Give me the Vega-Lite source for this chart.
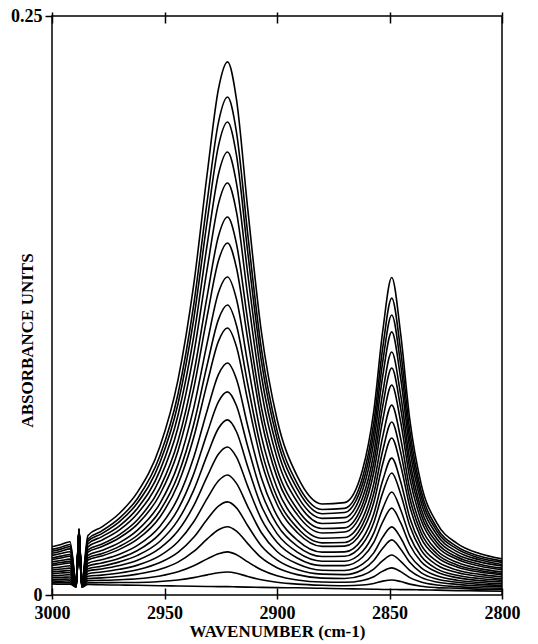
{
"$schema": "https://vega.github.io/schema/vega-lite/v6.json",
"width": 450, "height": 579,
"autosize": "none",
"padding": {"left": 52, "top": 16, "right": 36, "bottom": 49},
"background": "white",
"config": {"view": {"stroke": "black", "strokeWidth": 1.5}, "font": "Liberation Serif"},
"datasets": {"spec": [
{"s":1,"w":3000,"a":0.0208},{"s":1,"w":2996,"a":0.0218},{"s":1,"w":2992,"a":0.0230},{"s":1,"w":2989.2,"a":0.0057},{"s":1,"w":2988,"a":0.0287},{"s":1,"w":2986.8,"a":0.0057},{"s":1,"w":2984,"a":0.0257},{"s":1,"w":2978,"a":0.0293},{"s":1,"w":2970,"a":0.0353},{"s":1,"w":2962,"a":0.0444},{"s":1,"w":2952,"a":0.0642},{"s":1,"w":2944,"a":0.0929},{"s":1,"w":2937,"a":0.1341},{"s":1,"w":2931,"a":0.1821},{"s":1,"w":2926,"a":0.2186},{"s":1,"w":2922,"a":0.2302},{"s":1,"w":2918,"a":0.2139},{"s":1,"w":2913,"a":0.1667},{"s":1,"w":2907,"a":0.1141},{"s":1,"w":2900,"a":0.0760},{"s":1,"w":2891,"a":0.0513},{"s":1,"w":2880,"a":0.0393},{"s":1,"w":2870,"a":0.0399},{"s":1,"w":2862,"a":0.0540},{"s":1,"w":2857,"a":0.0793},{"s":1,"w":2853,"a":0.1140},{"s":1,"w":2849,"a":0.1371},{"s":1,"w":2845,"a":0.1124},{"s":1,"w":2841,"a":0.0759},{"s":1,"w":2836,"a":0.0482},{"s":1,"w":2829,"a":0.0311},{"s":1,"w":2820,"a":0.0223},{"s":1,"w":2810,"a":0.0179},{"s":1,"w":2800,"a":0.0156},
{"s":2,"w":3000,"a":0.0197},{"s":2,"w":2996,"a":0.0206},{"s":2,"w":2992,"a":0.0218},{"s":2,"w":2989.2,"a":0.0055},{"s":2,"w":2988,"a":0.0285},{"s":2,"w":2986.8,"a":0.0055},{"s":2,"w":2984,"a":0.0242},{"s":2,"w":2978,"a":0.0276},{"s":2,"w":2970,"a":0.0332},{"s":2,"w":2962,"a":0.0417},{"s":2,"w":2952,"a":0.0602},{"s":2,"w":2944,"a":0.0868},{"s":2,"w":2937,"a":0.1254},{"s":2,"w":2931,"a":0.1702},{"s":2,"w":2926,"a":0.2042},{"s":2,"w":2922,"a":0.2150},{"s":2,"w":2918,"a":0.1998},{"s":2,"w":2913,"a":0.1558},{"s":2,"w":2907,"a":0.1067},{"s":2,"w":2900,"a":0.0711},{"s":2,"w":2891,"a":0.0481},{"s":2,"w":2880,"a":0.0369},{"s":2,"w":2870,"a":0.0374},{"s":2,"w":2862,"a":0.0506},{"s":2,"w":2857,"a":0.0743},{"s":2,"w":2853,"a":0.1068},{"s":2,"w":2849,"a":0.1282},{"s":2,"w":2845,"a":0.1052},{"s":2,"w":2841,"a":0.0711},{"s":2,"w":2836,"a":0.0452},{"s":2,"w":2829,"a":0.0291},{"s":2,"w":2820,"a":0.0209},{"s":2,"w":2810,"a":0.0168},{"s":2,"w":2800,"a":0.0147},
{"s":3,"w":3000,"a":0.0189},{"s":3,"w":2996,"a":0.0198},{"s":3,"w":2992,"a":0.0209},{"s":3,"w":2989.2,"a":0.0054},{"s":3,"w":2988,"a":0.0284},{"s":3,"w":2986.8,"a":0.0054},{"s":3,"w":2984,"a":0.0232},{"s":3,"w":2978,"a":0.0264},{"s":3,"w":2970,"a":0.0317},{"s":3,"w":2962,"a":0.0398},{"s":3,"w":2952,"a":0.0573},{"s":3,"w":2944,"a":0.0826},{"s":3,"w":2937,"a":0.1192},{"s":3,"w":2931,"a":0.1617},{"s":3,"w":2926,"a":0.1940},{"s":3,"w":2922,"a":0.2042},{"s":3,"w":2918,"a":0.1898},{"s":3,"w":2913,"a":0.1480},{"s":3,"w":2907,"a":0.1014},{"s":3,"w":2900,"a":0.0676},{"s":3,"w":2891,"a":0.0458},{"s":3,"w":2880,"a":0.0351},{"s":3,"w":2870,"a":0.0356},{"s":3,"w":2862,"a":0.0479},{"s":3,"w":2857,"a":0.0702},{"s":3,"w":2853,"a":0.1008},{"s":3,"w":2849,"a":0.1209},{"s":3,"w":2845,"a":0.0992},{"s":3,"w":2841,"a":0.0671},{"s":3,"w":2836,"a":0.0428},{"s":3,"w":2829,"a":0.0277},{"s":3,"w":2820,"a":0.0199},{"s":3,"w":2810,"a":0.0160},{"s":3,"w":2800,"a":0.0141},
{"s":4,"w":3000,"a":0.0180},{"s":4,"w":2996,"a":0.0189},{"s":4,"w":2992,"a":0.0199},{"s":4,"w":2989.2,"a":0.0053},{"s":4,"w":2988,"a":0.0283},{"s":4,"w":2986.8,"a":0.0053},{"s":4,"w":2984,"a":0.0221},{"s":4,"w":2978,"a":0.0251},{"s":4,"w":2970,"a":0.0299},{"s":4,"w":2962,"a":0.0375},{"s":4,"w":2952,"a":0.0538},{"s":4,"w":2944,"a":0.0776},{"s":4,"w":2937,"a":0.1117},{"s":4,"w":2931,"a":0.1515},{"s":4,"w":2926,"a":0.1818},{"s":4,"w":2922,"a":0.1913},{"s":4,"w":2918,"a":0.1777},{"s":4,"w":2913,"a":0.1387},{"s":4,"w":2907,"a":0.0951},{"s":4,"w":2900,"a":0.0635},{"s":4,"w":2891,"a":0.0429},{"s":4,"w":2880,"a":0.0331},{"s":4,"w":2870,"a":0.0334},{"s":4,"w":2862,"a":0.0451},{"s":4,"w":2857,"a":0.0659},{"s":4,"w":2853,"a":0.0946},{"s":4,"w":2849,"a":0.1136},{"s":4,"w":2845,"a":0.0933},{"s":4,"w":2841,"a":0.0631},{"s":4,"w":2836,"a":0.0403},{"s":4,"w":2829,"a":0.0261},{"s":4,"w":2820,"a":0.0187},{"s":4,"w":2810,"a":0.0152},{"s":4,"w":2800,"a":0.0132},
{"s":5,"w":3000,"a":0.0171},{"s":5,"w":2996,"a":0.0179},{"s":5,"w":2992,"a":0.0187},{"s":5,"w":2989.2,"a":0.0052},{"s":5,"w":2988,"a":0.0282},{"s":5,"w":2986.8,"a":0.0052},{"s":5,"w":2984,"a":0.0208},{"s":5,"w":2978,"a":0.0236},{"s":5,"w":2970,"a":0.0281},{"s":5,"w":2962,"a":0.0352},{"s":5,"w":2952,"a":0.0503},{"s":5,"w":2944,"a":0.0723},{"s":5,"w":2937,"a":0.1041},{"s":5,"w":2931,"a":0.1410},{"s":5,"w":2926,"a":0.1690},{"s":5,"w":2922,"a":0.1779},{"s":5,"w":2918,"a":0.1653},{"s":5,"w":2913,"a":0.1290},{"s":5,"w":2907,"a":0.0886},{"s":5,"w":2900,"a":0.0592},{"s":5,"w":2891,"a":0.0402},{"s":5,"w":2880,"a":0.0309},{"s":5,"w":2870,"a":0.0313},{"s":5,"w":2862,"a":0.0419},{"s":5,"w":2857,"a":0.0611},{"s":5,"w":2853,"a":0.0874},{"s":5,"w":2849,"a":0.1049},{"s":5,"w":2845,"a":0.0861},{"s":5,"w":2841,"a":0.0584},{"s":5,"w":2836,"a":0.0374},{"s":5,"w":2829,"a":0.0243},{"s":5,"w":2820,"a":0.0175},{"s":5,"w":2810,"a":0.0143},{"s":5,"w":2800,"a":0.0125},
{"s":6,"w":3000,"a":0.0160},{"s":6,"w":2996,"a":0.0168},{"s":6,"w":2992,"a":0.0175},{"s":6,"w":2989.2,"a":0.0050},{"s":6,"w":2988,"a":0.0280},{"s":6,"w":2986.8,"a":0.0050},{"s":6,"w":2984,"a":0.0195},{"s":6,"w":2978,"a":0.0219},{"s":6,"w":2970,"a":0.0261},{"s":6,"w":2962,"a":0.0325},{"s":6,"w":2952,"a":0.0464},{"s":6,"w":2944,"a":0.0665},{"s":6,"w":2937,"a":0.0956},{"s":6,"w":2931,"a":0.1293},{"s":6,"w":2926,"a":0.1550},{"s":6,"w":2922,"a":0.1632},{"s":6,"w":2918,"a":0.1516},{"s":6,"w":2913,"a":0.1184},{"s":6,"w":2907,"a":0.0813},{"s":6,"w":2900,"a":0.0545},{"s":6,"w":2891,"a":0.0370},{"s":6,"w":2880,"a":0.0287},{"s":6,"w":2870,"a":0.0290},{"s":6,"w":2862,"a":0.0390},{"s":6,"w":2857,"a":0.0570},{"s":6,"w":2853,"a":0.0817},{"s":6,"w":2849,"a":0.0980},{"s":6,"w":2845,"a":0.0805},{"s":6,"w":2841,"a":0.0546},{"s":6,"w":2836,"a":0.0350},{"s":6,"w":2829,"a":0.0227},{"s":6,"w":2820,"a":0.0164},{"s":6,"w":2810,"a":0.0133},{"s":6,"w":2800,"a":0.0116},
{"s":7,"w":3000,"a":0.0153},{"s":7,"w":2996,"a":0.0160},{"s":7,"w":2992,"a":0.0167},{"s":7,"w":2989.2,"a":0.0049},{"s":7,"w":2988,"a":0.0279},{"s":7,"w":2986.8,"a":0.0049},{"s":7,"w":2984,"a":0.0185},{"s":7,"w":2978,"a":0.0208},{"s":7,"w":2970,"a":0.0247},{"s":7,"w":2962,"a":0.0306},{"s":7,"w":2952,"a":0.0435},{"s":7,"w":2944,"a":0.0622},{"s":7,"w":2937,"a":0.0892},{"s":7,"w":2931,"a":0.1205},{"s":7,"w":2926,"a":0.1444},{"s":7,"w":2922,"a":0.1520},{"s":7,"w":2918,"a":0.1412},{"s":7,"w":2913,"a":0.1104},{"s":7,"w":2907,"a":0.0760},{"s":7,"w":2900,"a":0.0509},{"s":7,"w":2891,"a":0.0347},{"s":7,"w":2880,"a":0.0268},{"s":7,"w":2870,"a":0.0272},{"s":7,"w":2862,"a":0.0364},{"s":7,"w":2857,"a":0.0529},{"s":7,"w":2853,"a":0.0756},{"s":7,"w":2849,"a":0.0907},{"s":7,"w":2845,"a":0.0745},{"s":7,"w":2841,"a":0.0506},{"s":7,"w":2836,"a":0.0325},{"s":7,"w":2829,"a":0.0212},{"s":7,"w":2820,"a":0.0154},{"s":7,"w":2810,"a":0.0125},{"s":7,"w":2800,"a":0.0109},
{"s":8,"w":3000,"a":0.0143},{"s":8,"w":2996,"a":0.0149},{"s":8,"w":2992,"a":0.0155},{"s":8,"w":2989.2,"a":0.0048},{"s":8,"w":2988,"a":0.0278},{"s":8,"w":2986.8,"a":0.0048},{"s":8,"w":2984,"a":0.0171},{"s":8,"w":2978,"a":0.0192},{"s":8,"w":2970,"a":0.0226},{"s":8,"w":2962,"a":0.0280},{"s":8,"w":2952,"a":0.0396},{"s":8,"w":2944,"a":0.0564},{"s":8,"w":2937,"a":0.0808},{"s":8,"w":2931,"a":0.1090},{"s":8,"w":2926,"a":0.1306},{"s":8,"w":2922,"a":0.1373},{"s":8,"w":2918,"a":0.1277},{"s":8,"w":2913,"a":0.0999},{"s":8,"w":2907,"a":0.0688},{"s":8,"w":2900,"a":0.0463},{"s":8,"w":2891,"a":0.0316},{"s":8,"w":2880,"a":0.0245},{"s":8,"w":2870,"a":0.0248},{"s":8,"w":2862,"a":0.0330},{"s":8,"w":2857,"a":0.0480},{"s":8,"w":2853,"a":0.0685},{"s":8,"w":2849,"a":0.0820},{"s":8,"w":2845,"a":0.0674},{"s":8,"w":2841,"a":0.0458},{"s":8,"w":2836,"a":0.0295},{"s":8,"w":2829,"a":0.0193},{"s":8,"w":2820,"a":0.0141},{"s":8,"w":2810,"a":0.0114},{"s":8,"w":2800,"a":0.0100},
{"s":9,"w":3000,"a":0.0134},{"s":9,"w":2996,"a":0.0140},{"s":9,"w":2992,"a":0.0145},{"s":9,"w":2989.2,"a":0.0047},{"s":9,"w":2988,"a":0.0277},{"s":9,"w":2986.8,"a":0.0047},{"s":9,"w":2984,"a":0.0160},{"s":9,"w":2978,"a":0.0178},{"s":9,"w":2970,"a":0.0210},{"s":9,"w":2962,"a":0.0258},{"s":9,"w":2952,"a":0.0364},{"s":9,"w":2944,"a":0.0517},{"s":9,"w":2937,"a":0.0737},{"s":9,"w":2931,"a":0.0995},{"s":9,"w":2926,"a":0.1190},{"s":9,"w":2922,"a":0.1252},{"s":9,"w":2918,"a":0.1164},{"s":9,"w":2913,"a":0.0910},{"s":9,"w":2907,"a":0.0629},{"s":9,"w":2900,"a":0.0423},{"s":9,"w":2891,"a":0.0290},{"s":9,"w":2880,"a":0.0225},{"s":9,"w":2870,"a":0.0227},{"s":9,"w":2862,"a":0.0303},{"s":9,"w":2857,"a":0.0438},{"s":9,"w":2853,"a":0.0624},{"s":9,"w":2849,"a":0.0747},{"s":9,"w":2845,"a":0.0615},{"s":9,"w":2841,"a":0.0419},{"s":9,"w":2836,"a":0.0270},{"s":9,"w":2829,"a":0.0178},{"s":9,"w":2820,"a":0.0130},{"s":9,"w":2810,"a":0.0106},{"s":9,"w":2800,"a":0.0093},
{"s":10,"w":3000,"a":0.0128},{"s":10,"w":2996,"a":0.0133},{"s":10,"w":2992,"a":0.0138},{"s":10,"w":2989.2,"a":0.0046},{"s":10,"w":2988,"a":0.0276},{"s":10,"w":2986.8,"a":0.0046},{"s":10,"w":2984,"a":0.0151},{"s":10,"w":2978,"a":0.0168},{"s":10,"w":2970,"a":0.0197},{"s":10,"w":2962,"a":0.0241},{"s":10,"w":2952,"a":0.0337},{"s":10,"w":2944,"a":0.0478},{"s":10,"w":2937,"a":0.0681},{"s":10,"w":2931,"a":0.0916},{"s":10,"w":2926,"a":0.1096},{"s":10,"w":2922,"a":0.1153},{"s":10,"w":2918,"a":0.1072},{"s":10,"w":2913,"a":0.0839},{"s":10,"w":2907,"a":0.0580},{"s":10,"w":2900,"a":0.0392},{"s":10,"w":2891,"a":0.0270},{"s":10,"w":2880,"a":0.0210},{"s":10,"w":2870,"a":0.0211},{"s":10,"w":2862,"a":0.0278},{"s":10,"w":2857,"a":0.0399},{"s":10,"w":2853,"a":0.0567},{"s":10,"w":2849,"a":0.0678},{"s":10,"w":2845,"a":0.0558},{"s":10,"w":2841,"a":0.0382},{"s":10,"w":2836,"a":0.0247},{"s":10,"w":2829,"a":0.0165},{"s":10,"w":2820,"a":0.0121},{"s":10,"w":2810,"a":0.0099},{"s":10,"w":2800,"a":0.0087},
{"s":11,"w":3000,"a":0.0117},{"s":11,"w":2996,"a":0.0121},{"s":11,"w":2992,"a":0.0126},{"s":11,"w":2989.2,"a":0.0044},{"s":11,"w":2988,"a":0.0274},{"s":11,"w":2986.8,"a":0.0044},{"s":11,"w":2984,"a":0.0137},{"s":11,"w":2978,"a":0.0152},{"s":11,"w":2970,"a":0.0176},{"s":11,"w":2962,"a":0.0214},{"s":11,"w":2952,"a":0.0297},{"s":11,"w":2944,"a":0.0419},{"s":11,"w":2937,"a":0.0595},{"s":11,"w":2931,"a":0.0798},{"s":11,"w":2926,"a":0.0953},{"s":11,"w":2922,"a":0.1002},{"s":11,"w":2918,"a":0.0932},{"s":11,"w":2913,"a":0.0730},{"s":11,"w":2907,"a":0.0507},{"s":11,"w":2900,"a":0.0343},{"s":11,"w":2891,"a":0.0237},{"s":11,"w":2880,"a":0.0185},{"s":11,"w":2870,"a":0.0186},{"s":11,"w":2862,"a":0.0244},{"s":11,"w":2857,"a":0.0350},{"s":11,"w":2853,"a":0.0495},{"s":11,"w":2849,"a":0.0591},{"s":11,"w":2845,"a":0.0488},{"s":11,"w":2841,"a":0.0334},{"s":11,"w":2836,"a":0.0218},{"s":11,"w":2829,"a":0.0146},{"s":11,"w":2820,"a":0.0108},{"s":11,"w":2810,"a":0.0089},{"s":11,"w":2800,"a":0.0078},
{"s":12,"w":3000,"a":0.0108},{"s":12,"w":2996,"a":0.0112},{"s":12,"w":2992,"a":0.0116},{"s":12,"w":2989.2,"a":0.0043},{"s":12,"w":2988,"a":0.0273},{"s":12,"w":2986.8,"a":0.0043},{"s":12,"w":2984,"a":0.0125},{"s":12,"w":2978,"a":0.0138},{"s":12,"w":2970,"a":0.0159},{"s":12,"w":2962,"a":0.0192},{"s":12,"w":2952,"a":0.0265},{"s":12,"w":2944,"a":0.0370},{"s":12,"w":2937,"a":0.0523},{"s":12,"w":2931,"a":0.0700},{"s":12,"w":2926,"a":0.0835},{"s":12,"w":2922,"a":0.0877},{"s":12,"w":2918,"a":0.0817},{"s":12,"w":2913,"a":0.0641},{"s":12,"w":2907,"a":0.0446},{"s":12,"w":2900,"a":0.0304},{"s":12,"w":2891,"a":0.0211},{"s":12,"w":2880,"a":0.0166},{"s":12,"w":2870,"a":0.0167},{"s":12,"w":2862,"a":0.0219},{"s":12,"w":2857,"a":0.0312},{"s":12,"w":2853,"a":0.0442},{"s":12,"w":2849,"a":0.0527},{"s":12,"w":2845,"a":0.0435},{"s":12,"w":2841,"a":0.0299},{"s":12,"w":2836,"a":0.0195},{"s":12,"w":2829,"a":0.0130},{"s":12,"w":2820,"a":0.0097},{"s":12,"w":2810,"a":0.0080},{"s":12,"w":2800,"a":0.0070},
{"s":13,"w":3000,"a":0.0100},{"s":13,"w":2996,"a":0.0103},{"s":13,"w":2992,"a":0.0106},{"s":13,"w":2989.2,"a":0.0042},{"s":13,"w":2988,"a":0.0272},{"s":13,"w":2986.8,"a":0.0042},{"s":13,"w":2984,"a":0.0113},{"s":13,"w":2978,"a":0.0124},{"s":13,"w":2970,"a":0.0143},{"s":13,"w":2962,"a":0.0171},{"s":13,"w":2952,"a":0.0232},{"s":13,"w":2944,"a":0.0323},{"s":13,"w":2937,"a":0.0453},{"s":13,"w":2931,"a":0.0605},{"s":13,"w":2926,"a":0.0720},{"s":13,"w":2922,"a":0.0756},{"s":13,"w":2918,"a":0.0705},{"s":13,"w":2913,"a":0.0554},{"s":13,"w":2907,"a":0.0386},{"s":13,"w":2900,"a":0.0265},{"s":13,"w":2891,"a":0.0185},{"s":13,"w":2880,"a":0.0146},{"s":13,"w":2870,"a":0.0146},{"s":13,"w":2862,"a":0.0188},{"s":13,"w":2857,"a":0.0267},{"s":13,"w":2853,"a":0.0373},{"s":13,"w":2849,"a":0.0445},{"s":13,"w":2845,"a":0.0367},{"s":13,"w":2841,"a":0.0254},{"s":13,"w":2836,"a":0.0168},{"s":13,"w":2829,"a":0.0113},{"s":13,"w":2820,"a":0.0085},{"s":13,"w":2810,"a":0.0071},{"s":13,"w":2800,"a":0.0063},
{"s":14,"w":3000,"a":0.0092},{"s":14,"w":2996,"a":0.0095},{"s":14,"w":2992,"a":0.0097},{"s":14,"w":2989.2,"a":0.0041},{"s":14,"w":2988,"a":0.0271},{"s":14,"w":2986.8,"a":0.0041},{"s":14,"w":2984,"a":0.0104},{"s":14,"w":2978,"a":0.0112},{"s":14,"w":2970,"a":0.0127},{"s":14,"w":2962,"a":0.0150},{"s":14,"w":2952,"a":0.0202},{"s":14,"w":2944,"a":0.0277},{"s":14,"w":2937,"a":0.0386},{"s":14,"w":2931,"a":0.0512},{"s":14,"w":2926,"a":0.0609},{"s":14,"w":2922,"a":0.0639},{"s":14,"w":2918,"a":0.0595},{"s":14,"w":2913,"a":0.0469},{"s":14,"w":2907,"a":0.0329},{"s":14,"w":2900,"a":0.0228},{"s":14,"w":2891,"a":0.0160},{"s":14,"w":2880,"a":0.0127},{"s":14,"w":2870,"a":0.0127},{"s":14,"w":2862,"a":0.0163},{"s":14,"w":2857,"a":0.0227},{"s":14,"w":2853,"a":0.0316},{"s":14,"w":2849,"a":0.0375},{"s":14,"w":2845,"a":0.0311},{"s":14,"w":2841,"a":0.0217},{"s":14,"w":2836,"a":0.0145},{"s":14,"w":2829,"a":0.0099},{"s":14,"w":2820,"a":0.0075},{"s":14,"w":2810,"a":0.0062},{"s":14,"w":2800,"a":0.0056},
{"s":15,"w":3000,"a":0.0084},{"s":15,"w":2996,"a":0.0085},{"s":15,"w":2992,"a":0.0088},{"s":15,"w":2989.2,"a":0.0040},{"s":15,"w":2988,"a":0.0270},{"s":15,"w":2986.8,"a":0.0040},{"s":15,"w":2984,"a":0.0092},{"s":15,"w":2978,"a":0.0099},{"s":15,"w":2970,"a":0.0111},{"s":15,"w":2962,"a":0.0129},{"s":15,"w":2952,"a":0.0170},{"s":15,"w":2944,"a":0.0230},{"s":15,"w":2937,"a":0.0316},{"s":15,"w":2931,"a":0.0417},{"s":15,"w":2926,"a":0.0493},{"s":15,"w":2922,"a":0.0518},{"s":15,"w":2918,"a":0.0482},{"s":15,"w":2913,"a":0.0382},{"s":15,"w":2907,"a":0.0270},{"s":15,"w":2900,"a":0.0188},{"s":15,"w":2891,"a":0.0135},{"s":15,"w":2880,"a":0.0107},{"s":15,"w":2870,"a":0.0106},{"s":15,"w":2862,"a":0.0133},{"s":15,"w":2857,"a":0.0182},{"s":15,"w":2853,"a":0.0250},{"s":15,"w":2849,"a":0.0294},{"s":15,"w":2845,"a":0.0246},{"s":15,"w":2841,"a":0.0172},{"s":15,"w":2836,"a":0.0118},{"s":15,"w":2829,"a":0.0083},{"s":15,"w":2820,"a":0.0064},{"s":15,"w":2810,"a":0.0054},{"s":15,"w":2800,"a":0.0048},
{"s":16,"w":3000,"a":0.0076},{"s":16,"w":2996,"a":0.0076},{"s":16,"w":2992,"a":0.0078},{"s":16,"w":2989.2,"a":0.0039},{"s":16,"w":2988,"a":0.0269},{"s":16,"w":2986.8,"a":0.0039},{"s":16,"w":2984,"a":0.0081},{"s":16,"w":2978,"a":0.0086},{"s":16,"w":2970,"a":0.0095},{"s":16,"w":2962,"a":0.0109},{"s":16,"w":2952,"a":0.0140},{"s":16,"w":2944,"a":0.0184},{"s":16,"w":2937,"a":0.0249},{"s":16,"w":2931,"a":0.0327},{"s":16,"w":2926,"a":0.0384},{"s":16,"w":2922,"a":0.0402},{"s":16,"w":2918,"a":0.0376},{"s":16,"w":2913,"a":0.0299},{"s":16,"w":2907,"a":0.0213},{"s":16,"w":2900,"a":0.0152},{"s":16,"w":2891,"a":0.0110},{"s":16,"w":2880,"a":0.0090},{"s":16,"w":2870,"a":0.0088},{"s":16,"w":2862,"a":0.0109},{"s":16,"w":2857,"a":0.0149},{"s":16,"w":2853,"a":0.0202},{"s":16,"w":2849,"a":0.0238},{"s":16,"w":2845,"a":0.0198},{"s":16,"w":2841,"a":0.0141},{"s":16,"w":2836,"a":0.0097},{"s":16,"w":2829,"a":0.0069},{"s":16,"w":2820,"a":0.0055},{"s":16,"w":2810,"a":0.0046},{"s":16,"w":2800,"a":0.0041},
{"s":17,"w":3000,"a":0.0068},{"s":17,"w":2996,"a":0.0068},{"s":17,"w":2992,"a":0.0069},{"s":17,"w":2989.2,"a":0.0038},{"s":17,"w":2988,"a":0.0268},{"s":17,"w":2986.8,"a":0.0038},{"s":17,"w":2984,"a":0.0071},{"s":17,"w":2978,"a":0.0074},{"s":17,"w":2970,"a":0.0080},{"s":17,"w":2962,"a":0.0090},{"s":17,"w":2952,"a":0.0111},{"s":17,"w":2944,"a":0.0142},{"s":17,"w":2937,"a":0.0188},{"s":17,"w":2931,"a":0.0242},{"s":17,"w":2926,"a":0.0282},{"s":17,"w":2922,"a":0.0295},{"s":17,"w":2918,"a":0.0276},{"s":17,"w":2913,"a":0.0222},{"s":17,"w":2907,"a":0.0161},{"s":17,"w":2900,"a":0.0118},{"s":17,"w":2891,"a":0.0088},{"s":17,"w":2880,"a":0.0073},{"s":17,"w":2870,"a":0.0071},{"s":17,"w":2862,"a":0.0085},{"s":17,"w":2857,"a":0.0112},{"s":17,"w":2853,"a":0.0148},{"s":17,"w":2849,"a":0.0173},{"s":17,"w":2845,"a":0.0145},{"s":17,"w":2841,"a":0.0106},{"s":17,"w":2836,"a":0.0076},{"s":17,"w":2829,"a":0.0056},{"s":17,"w":2820,"a":0.0046},{"s":17,"w":2810,"a":0.0039},{"s":17,"w":2800,"a":0.0036},
{"s":18,"w":3000,"a":0.0061},{"s":18,"w":2996,"a":0.0060},{"s":18,"w":2992,"a":0.0061},{"s":18,"w":2989.2,"a":0.0036},{"s":18,"w":2988,"a":0.0266},{"s":18,"w":2986.8,"a":0.0036},{"s":18,"w":2984,"a":0.0062},{"s":18,"w":2978,"a":0.0063},{"s":18,"w":2970,"a":0.0066},{"s":18,"w":2962,"a":0.0070},{"s":18,"w":2952,"a":0.0082},{"s":18,"w":2944,"a":0.0100},{"s":18,"w":2937,"a":0.0126},{"s":18,"w":2931,"a":0.0156},{"s":18,"w":2926,"a":0.0178},{"s":18,"w":2922,"a":0.0186},{"s":18,"w":2918,"a":0.0174},{"s":18,"w":2913,"a":0.0143},{"s":18,"w":2907,"a":0.0109},{"s":18,"w":2900,"a":0.0083},{"s":18,"w":2891,"a":0.0065},{"s":18,"w":2880,"a":0.0056},{"s":18,"w":2870,"a":0.0055},{"s":18,"w":2862,"a":0.0063},{"s":18,"w":2857,"a":0.0079},{"s":18,"w":2853,"a":0.0103},{"s":18,"w":2849,"a":0.0117},{"s":18,"w":2845,"a":0.0101},{"s":18,"w":2841,"a":0.0075},{"s":18,"w":2836,"a":0.0056},{"s":18,"w":2829,"a":0.0043},{"s":18,"w":2820,"a":0.0036},{"s":18,"w":2810,"a":0.0031},{"s":18,"w":2800,"a":0.0029},
{"s":19,"w":3000,"a":0.0054},{"s":19,"w":2996,"a":0.0054},{"s":19,"w":2992,"a":0.0053},{"s":19,"w":2989.2,"a":0.0035},{"s":19,"w":2988,"a":0.0265},{"s":19,"w":2986.8,"a":0.0035},{"s":19,"w":2984,"a":0.0053},{"s":19,"w":2978,"a":0.0053},{"s":19,"w":2970,"a":0.0054},{"s":19,"w":2962,"a":0.0054},{"s":19,"w":2952,"a":0.0058},{"s":19,"w":2944,"a":0.0065},{"s":19,"w":2937,"a":0.0075},{"s":19,"w":2931,"a":0.0087},{"s":19,"w":2926,"a":0.0096},{"s":19,"w":2922,"a":0.0099},{"s":19,"w":2918,"a":0.0094},{"s":19,"w":2913,"a":0.0080},{"s":19,"w":2907,"a":0.0066},{"s":19,"w":2900,"a":0.0055},{"s":19,"w":2891,"a":0.0047},{"s":19,"w":2880,"a":0.0042},{"s":19,"w":2870,"a":0.0040},{"s":19,"w":2862,"a":0.0043},{"s":19,"w":2857,"a":0.0050},{"s":19,"w":2853,"a":0.0060},{"s":19,"w":2849,"a":0.0065},{"s":19,"w":2845,"a":0.0058},{"s":19,"w":2841,"a":0.0047},{"s":19,"w":2836,"a":0.0038},{"s":19,"w":2829,"a":0.0032},{"s":19,"w":2820,"a":0.0029},{"s":19,"w":2810,"a":0.0025},{"s":19,"w":2800,"a":0.0024},
{"s":20,"w":3000,"a":0.0048},{"s":20,"w":2996,"a":0.0047},{"s":20,"w":2992,"a":0.0047},{"s":20,"w":2989.2,"a":0.0034},{"s":20,"w":2988,"a":0.0264},{"s":20,"w":2986.8,"a":0.0034},{"s":20,"w":2984,"a":0.0046},{"s":20,"w":2978,"a":0.0044},{"s":20,"w":2970,"a":0.0043},{"s":20,"w":2962,"a":0.0042},{"s":20,"w":2952,"a":0.0040},{"s":20,"w":2944,"a":0.0039},{"s":20,"w":2937,"a":0.0038},{"s":20,"w":2931,"a":0.0037},{"s":20,"w":2926,"a":0.0036},{"s":20,"w":2922,"a":0.0036},{"s":20,"w":2918,"a":0.0035},{"s":20,"w":2913,"a":0.0034},{"s":20,"w":2907,"a":0.0033},{"s":20,"w":2900,"a":0.0032},{"s":20,"w":2891,"a":0.0031},{"s":20,"w":2880,"a":0.0029},{"s":20,"w":2870,"a":0.0027},{"s":20,"w":2862,"a":0.0026},{"s":20,"w":2857,"a":0.0025},{"s":20,"w":2853,"a":0.0024},{"s":20,"w":2849,"a":0.0024},{"s":20,"w":2845,"a":0.0023},{"s":20,"w":2841,"a":0.0023},{"s":20,"w":2836,"a":0.0022},{"s":20,"w":2829,"a":0.0021},{"s":20,"w":2820,"a":0.0019},{"s":20,"w":2810,"a":0.0018},{"s":20,"w":2800,"a":0.0016}
],
"ends": [{"w":3000},{"w":2800}]},
"layer": [
{"data": {"name": "spec"},
 "mark": {"type": "line", "interpolate": "monotone", "stroke": "black", "strokeWidth": 1.6},
 "encoding": {
  "x": {"field": "w", "type": "quantitative",
        "scale": {"domain": [2800, 3000], "reverse": true, "nice": false, "zero": false},
        "axis": {"orient": "bottom", "values": [3000, 2950, 2900, 2850, 2800], "format": "d", "domain": false, "grid": false,
                 "tickSize": 4, "tickWidth": 1.5, "tickColor": "black",
                 "labelFont": "Liberation Serif", "labelFontSize": 18, "labelFontWeight": "bold", "labelColor": "black", "labelPadding": 5, "labelFlush": false,
                 "title": "WAVENUMBER (cm-1)", "titleFont": "Liberation Serif", "titleFontSize": 17, "titleFontWeight": "bold", "titleColor": "black", "titlePadding": 1}},
  "y": {"field": "a", "type": "quantitative",
        "scale": {"domain": [0, 0.25], "nice": false},
        "axis": {"orient": "left", "values": [0, 0.25], "format": ".2~f", "domain": false, "grid": false,
                 "tickSize": 7, "tickWidth": 1.5, "tickColor": "black",
                 "labelFont": "Liberation Serif", "labelFontSize": 18, "labelFontWeight": "bold", "labelColor": "black", "labelPadding": 3, "labelFlush": false,
                 "title": "ABSORBANCE UNITS", "titleFont": "Liberation Serif", "titleFontSize": 17, "titleFontWeight": "bold", "titleColor": "black",
                 "titleAngle": -90, "titleAlign": "center", "titleBaseline": "middle", "titleX": -25, "titleY": 324}},
  "detail": {"field": "s", "type": "nominal"}}},
{"data": {"name": "ends"},
 "mark": {"type": "point", "opacity": 0},
 "encoding": {"x": {"field": "w", "type": "quantitative",
   "axis": {"orient": "bottom", "values": [3000, 2950, 2900, 2850, 2800], "domain": false, "grid": false, "labels": false, "title": null,
            "tickSize": -7, "tickWidth": 1.5, "tickColor": "black"}}}},
{"data": {"name": "ends"},
 "mark": {"type": "point", "opacity": 0},
 "encoding": {"x": {"field": "w", "type": "quantitative",
   "axis": {"orient": "top", "values": [3000, 2950, 2900, 2850, 2800], "domain": false, "grid": false, "labels": false, "title": null,
            "tickSize": -7, "tickWidth": 1.5, "tickColor": "black"}}}},
{"data": {"name": "ends"},
 "mark": {"type": "point", "opacity": 0},
 "encoding": {"x": {"field": "w", "type": "quantitative",
   "axis": {"orient": "top", "values": [3000, 2950, 2900, 2850, 2800], "domain": false, "grid": false, "labels": false, "title": null,
            "tickSize": 4, "tickWidth": 1.5, "tickColor": "black"}}}}
],
"resolve": {"axis": {"x": "independent"}}
}
